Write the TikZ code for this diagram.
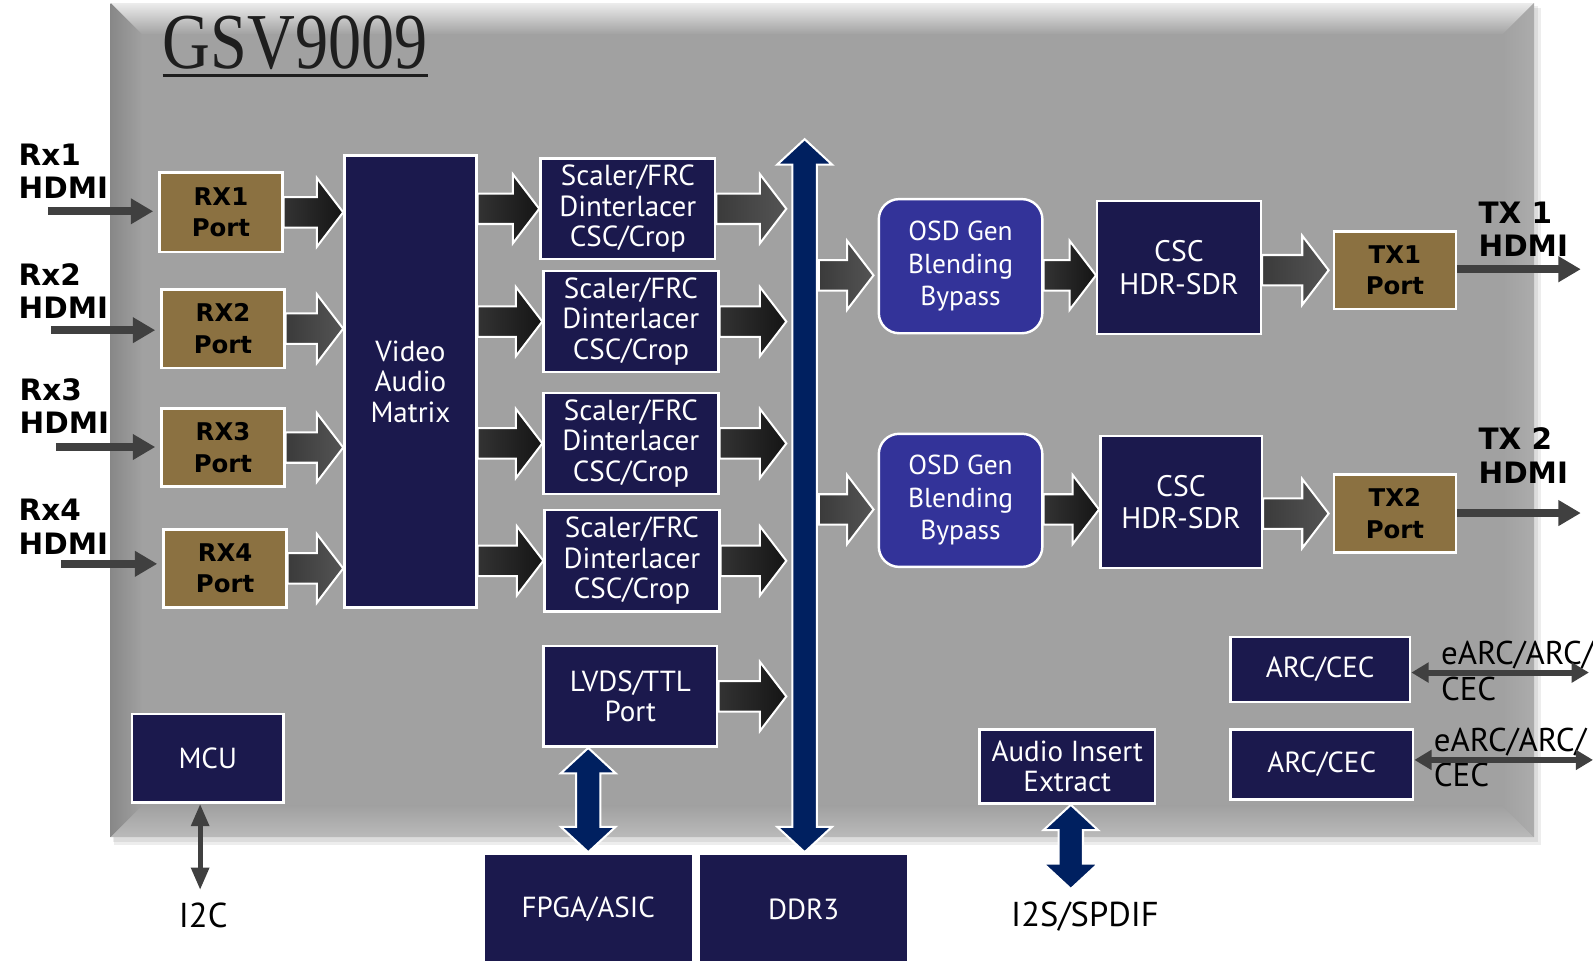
\documentclass[tikz,border=0pt]{standalone}
\usepackage{fontspec}
\setmainfont{PT Sans}
\newfontfamily\lblfont{DejaVu Sans}
\newfontfamily\ttlfont{Liberation Serif}
\usetikzlibrary{arrows.meta,calc}

\definecolor{chipgray}{RGB}{161,161,161}
\definecolor{bevtop}{RGB}{236,236,236}
\definecolor{bevleft}{RGB}{136,136,136}
\definecolor{bevbot}{RGB}{186,186,186}
\definecolor{bevright}{RGB}{172,172,172}
\definecolor{blocknavy}{RGB}{27,25,77}
\definecolor{osdblue}{RGB}{51,51,153}
\definecolor{portbrown}{RGB}{139,113,65}
\definecolor{busblue}{RGB}{0,32,96}
\definecolor{wiregray}{RGB}{64,64,64}
\definecolor{titleblack}{RGB}{30,30,30}

\newcommand\fatarr[3]{%
  \shade[#1] let \p1=#2, \p2=#3 in
    (\x1,\y1+7.5pt) -- (\x2-13pt,\y1+7.5pt) -- (\x2-13pt,\y1+17pt) -- (\x2,\y1)
    -- (\x2-13pt,\y1-17pt) -- (\x2-13pt,\y1-7.5pt) -- (\x1,\y1-7.5pt) -- cycle;}
\newcommand\dblfat[2]{%
  \path[busfill] let \p1=#1, \p2=#2 in
    (\x1,\y1) -- (\x1+13.5pt,\y1-12.5pt) -- (\x1+6pt,\y1-12.5pt) -- (\x1+6pt,\y2+12.5pt)
    -- (\x1+13.5pt,\y2+12.5pt) -- (\x1,\y2) -- (\x1-13.5pt,\y2+12.5pt) -- (\x1-6pt,\y2+12.5pt)
    -- (\x1-6pt,\y1-12.5pt) -- (\x1-13.5pt,\y1-12.5pt) -- cycle;}

\begin{document}
\begin{tikzpicture}[x=0.5pt,y=-0.5pt,
  blk/.style={draw=white,line width=1.2pt,fill=blocknavy,text=white,align=center,inner sep=0pt,
    font=\fontsize{14.3}{15}\selectfont},
  osd/.style={blk,fill=osdblue,rounded corners=10pt,font=\fontsize{13.5}{16}\selectfont},
  csc/.style={blk,font=\fontsize{14.6}{16}\selectfont},
  port/.style={draw=white,line width=1.2pt,fill=portbrown,align=center,inner sep=0pt,
    minimum width=60.5pt,minimum height=38.5pt,font=\lblfont\bfseries\fontsize{12}{15.5}\selectfont},
  hdmilab/.style={anchor=north west,align=left,inner sep=0pt,
    font=\lblfont\bfseries\fontsize{14.5}{16.5}\selectfont},
  plainlab/.style={inner sep=0pt,font=\fontsize{17}{17}\selectfont},
  arclab/.style={anchor=north west,align=left,inner sep=0pt,font=\fontsize{16.2}{17.5}\selectfont},
  darkarr/.style={left color=black!80,right color=black!92,draw=white,line width=1pt},
  grayarr/.style={left color=black!77,right color=black!67,draw=white,line width=1pt},
  busfill/.style={fill=busblue,draw=white,line width=1pt},
  wire/.style={draw=wiregray,line width=3.75pt,-{Triangle[length=11pt,width=12pt]}},
  mcuwire/.style={draw=wiregray,line width=2.5pt,
    {Triangle[length=11pt,width=8.5pt]}-{Triangle[length=11pt,width=8.5pt]}},
  arcwire/.style={draw=wiregray,line width=3pt,
    {Triangle[length=8.5pt,width=9.5pt]}-{Triangle[length=8.5pt,width=9.5pt]}}]
\useasboundingbox (0,0) rectangle (1568,945);

\fill[black,opacity=0.07] (112,8) rectangle (1517,832);
\fill[black,opacity=0.07] (111,6) rectangle (1514,829);
\fill[chipgray] (109,3) rectangle (1510,824);
\shade[top color=bevtop,bottom color=chipgray] (109,3) -- (1510,3) -- (1479,34) -- (140,34) -- cycle;
\shade[left color=bevleft,right color=chipgray] (109,3) -- (140,34) -- (140,793) -- (109,824) -- cycle;
\shade[top color=chipgray,bottom color=bevbot] (109,824) -- (140,793) -- (1479,793) -- (1510,824) -- cycle;
\shade[left color=chipgray,right color=bevright] (1510,3) -- (1510,824) -- (1479,793) -- (1479,34) -- cycle;

\node[anchor=base west,inner sep=0pt,text=titleblack,font=\ttlfont\fontsize{39}{39}\selectfont]
  (title) at (160,67) {\scalebox{0.835}[1]{GSV9009}};
\draw[titleblack,line width=1.6pt] ([yshift=-3.75pt]title.base west) -- ([yshift=-3.75pt]title.base east);

\node[hdmilab] (rx1lab) at (18,141) {Rx1\\HDMI};
\node[hdmilab] (rx2lab) at (18,259) {Rx2\\HDMI};
\node[hdmilab] (rx3lab) at (19,372) {Rx3\\HDMI};
\node[hdmilab] (rx4lab) at (18,491) {Rx4\\HDMI};
\node[hdmilab] (tx1lab) at (1455,198) {TX 1\\HDMI};
\node[hdmilab] (tx2lab) at (1455,421) {TX 2\\HDMI};

\node[port,minimum height=39pt] (rx1) at (217.5,209) {RX1\\Port};
\node[port] (rx2) at (219.5,323.5) {RX2\\Port};
\node[port] (rx3) at (219.5,440.5) {RX3\\Port};
\node[port] (rx4) at (221.5,559.5) {RX4\\Port};
\node[blk,minimum width=65pt,minimum height=222.5pt] (vam) at (404,375.5) {Video\\Audio\\Matrix};
\node[blk,minimum width=86pt,minimum height=49.5pt] (s1) at (618,205.5) {Scaler/FRC\\Dinterlacer\\CSC/Crop};
\node[blk,minimum width=86pt,minimum height=49.5pt] (s2) at (621,316.5) {Scaler/FRC\\Dinterlacer\\CSC/Crop};
\node[blk,minimum width=86pt,minimum height=49.5pt] (s3) at (621,436.5) {Scaler/FRC\\Dinterlacer\\CSC/Crop};
\node[blk,minimum width=86pt,minimum height=50pt] (s4) at (622,552) {Scaler/FRC\\Dinterlacer\\CSC/Crop};
\node[blk,minimum width=85.5pt,minimum height=49.5pt] (lvds) at (620.5,685.5) {LVDS/TTL\\Port};
\node[blk,minimum width=74.5pt,minimum height=43.5pt] (mcu) at (204.5,746.5) {MCU};
\node[blk,minimum width=103pt,minimum height=55pt] (fpga) at (579,895) {FPGA/ASIC};
\node[blk,minimum width=103pt,minimum height=55pt] (ddr) at (791,895) {DDR3};
\node[osd,minimum width=80.5pt,minimum height=66pt] (osd1) at (945.5,262) {OSD Gen\\Blending\\Bypass};
\node[osd,minimum width=80.5pt,minimum height=65.5pt] (osd2) at (945.5,492.5) {OSD Gen\\Blending\\Bypass};
\node[csc,minimum width=80.5pt,minimum height=65.5pt] (csc1) at (1160.5,263.5) {CSC\\HDR-SDR};
\node[csc,minimum width=79.5pt,minimum height=65pt] (csc2) at (1162.5,494) {CSC\\HDR-SDR};
\node[port,minimum width=60pt,minimum height=38pt] (tx1) at (1373,266) {TX1\\Port};
\node[port,minimum width=60pt,minimum height=38.5pt] (tx2) at (1373,505.5) {TX2\\Port};
\node[blk,minimum width=88.5pt,minimum height=32pt] (arc1) at (1299.5,659) {ARC/CEC};
\node[blk,minimum width=90pt,minimum height=34.5pt] (arc2) at (1301,752.5) {ARC/CEC};
\node[blk,minimum width=86.5pt,minimum height=36.5pt] (audio) at (1050.5,754.5) {Audio Insert\\Extract};

\node[plainlab] (i2c) at (200,901) {I2C};
\node[plainlab] (i2s) at (1068,902) {I2S/SPDIF};
\node[arclab] (earc1lab) at (1418,631) {eARC/ARC/\\CEC};
\node[arclab] (earc2lab) at (1411,716) {eARC/ARC/\\CEC};

\coordinate (in1) at (47,208);
\coordinate (in2) at (50,325);
\coordinate (in3) at (55,440);
\coordinate (in4) at (60,555);
\coordinate (out1) at (1556,265);
\coordinate (out2) at (1556,505);
\coordinate (bustop) at (792,137);
\coordinate (busin) at (774,137);
\coordinate (busout) at (806,137);
\coordinate (i2cpin) at (197,876);
\coordinate (i2spin) at (1054,875);
\coordinate (earc1) at (1564,662);
\coordinate (earc2) at (1568,748);

\draw[wire,shorten >=2.5pt] (in1) -- (in1 -| rx1.west);
\draw[wire,shorten >=2.5pt] (in2) -- (in2 -| rx2.west);
\draw[wire,shorten >=2.5pt] (in3) -- (in3 -| rx3.west);
\draw[wire,shorten >=2.5pt] (in4) -- (in4 -| rx4.west);
\draw[wire] (tx1.east |- out1) -- (out1);
\draw[wire] (tx2.east |- out2) -- (out2);
\draw[mcuwire] (i2cpin |- mcu.south) -- (i2cpin);
\draw[arcwire] (earc1 -| arc1.east) -- (earc1);
\draw[arcwire] (earc2 -| arc2.east) -- (earc2);

\fatarr{darkarr}{(rx1.east)}{(vam.west)}
\fatarr{grayarr}{(rx2.east)}{(vam.west)}
\fatarr{grayarr}{(rx3.east)}{(vam.west)}
\fatarr{grayarr}{(rx4.east)}{(vam.west)}
\fatarr{darkarr}{(vam.east |- s1.west)}{(s1.west)}
\fatarr{darkarr}{(vam.east |- s2.west)}{(s2.west)}
\fatarr{darkarr}{(vam.east |- s3.west)}{(s3.west)}
\fatarr{darkarr}{(vam.east |- s4.west)}{(s4.west)}
\fatarr{grayarr}{(s1.east)}{(busin)}
\fatarr{darkarr}{(s2.east)}{(busin)}
\fatarr{darkarr}{(s3.east)}{(busin)}
\fatarr{darkarr}{(s4.east)}{(busin)}
\fatarr{darkarr}{(lvds.east)}{(busin)}
\fatarr{grayarr}{($(busout |- osd1.west)+(0,9)$)}{([xshift=-2pt]osd1.west)}
\fatarr{grayarr}{($(busout |- osd2.west)+(0,9)$)}{([xshift=-2pt]osd2.west)}
\fatarr{darkarr}{($(osd1.east)+(0,9)$)}{(csc1.west)}
\fatarr{darkarr}{($(osd2.east)+(0,9)$)}{(csc2.west)}
\fatarr{grayarr}{(csc1.east |- tx1.west)}{([xshift=-2pt]tx1.west)}
\fatarr{grayarr}{(csc2.east |- tx2.west)}{([xshift=-2pt]tx2.west)}

\dblfat{(bustop)}{(ddr.north)}
\dblfat{(fpga.north |- lvds.south)}{(fpga.north)}
\dblfat{(i2spin |- audio.south)}{(i2spin)}
\end{tikzpicture}
\end{document}
